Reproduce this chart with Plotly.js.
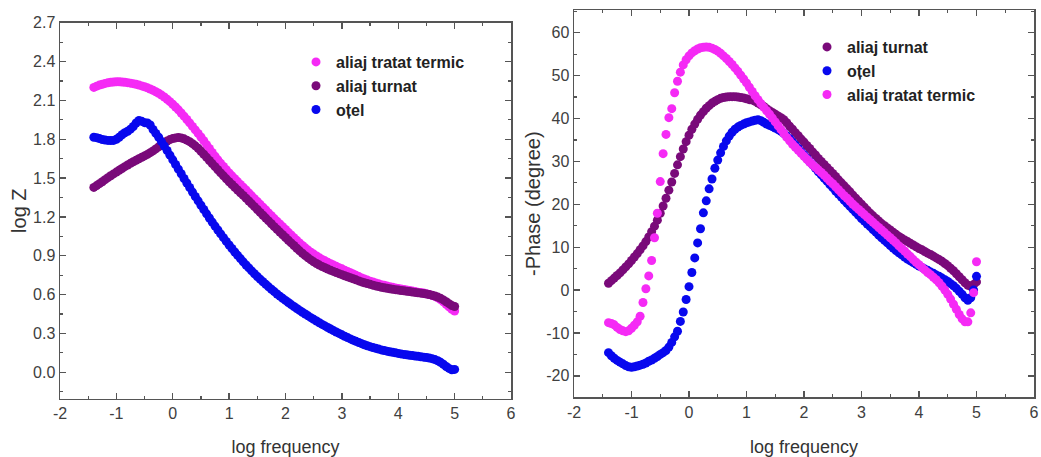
<!DOCTYPE html>
<html>
<head>
<meta charset="utf-8">
<script src="https://cdn.plot.ly/plotly-3.0.1.min.js"></script>
<style>
  html, body { margin: 0; padding: 0; background: #ffffff; }
  #chart { width: 1041px; height: 457px; }
</style>
</head>
<body>
<div id="chart"></div>
<script>
// Shared frequency grid (log10 of frequency, Hz)
const logFreq = [
  -1.40,-1.35,-1.30,-1.25,-1.20,-1.15,-1.10,-1.05,-1.00,-0.95,
  -0.90,-0.85,-0.80,-0.75,-0.70,-0.65,-0.60,-0.55,-0.50,-0.45,
  -0.40,-0.35,-0.30,-0.25,-0.20,-0.15,-0.10,-0.05,0.00,0.05,
  0.10,0.15,0.20,0.25,0.30,0.35,0.40,0.45,0.50,0.55,
  0.60,0.65,0.70,0.75,0.80,0.85,0.90,0.95,1.00,1.05,
  1.10,1.15,1.20,1.25,1.30,1.35,1.40,1.45,1.50,1.55,
  1.60,1.65,1.70,1.75,1.80,1.85,1.90,1.95,2.00,2.05,
  2.10,2.15,2.20,2.25,2.30,2.35,2.40,2.45,2.50,2.55,
  2.60,2.65,2.70,2.75,2.80,2.85,2.90,2.95,3.00,3.05,
  3.10,3.15,3.20,3.25,3.30,3.35,3.40,3.45,3.50,3.55,
  3.60,3.65,3.70,3.75,3.80,3.85,3.90,3.95,4.00,4.05,
  4.10,4.15,4.20,4.25,4.30,4.35,4.40,4.45,4.50,4.55,
  4.60,4.65,4.70,4.75,4.80,4.85,4.90,4.95,5.00
];

// Bode modulus, log |Z|
const logZ_tratat = [
  2.200,2.210,2.218,2.225,2.231,2.236,2.240,2.242,2.243,2.243,
  2.242,2.240,2.237,2.233,2.229,2.224,2.218,2.212,2.205,2.197,
  2.188,2.178,2.167,2.155,2.141,2.126,2.109,2.090,2.070,2.049,
  2.027,2.003,1.978,1.952,1.926,1.899,1.872,1.845,1.817,1.788,
  1.758,1.728,1.698,1.669,1.641,1.614,1.589,1.564,1.540,1.517,
  1.495,1.473,1.451,1.429,1.408,1.385,1.363,1.341,1.319,1.297,
  1.275,1.253,1.231,1.209,1.187,1.166,1.145,1.124,1.103,1.081,
  1.060,1.040,1.019,0.999,0.980,0.961,0.944,0.928,0.913,0.898,
  0.885,0.872,0.861,0.849,0.839,0.828,0.818,0.808,0.799,0.789,
  0.779,0.769,0.759,0.749,0.739,0.729,0.720,0.712,0.704,0.697,
  0.689,0.683,0.677,0.672,0.666,0.661,0.656,0.651,0.647,0.643,
  0.639,0.635,0.631,0.627,0.623,0.619,0.616,0.612,0.607,0.601,
  0.594,0.586,0.576,0.561,0.544,0.525,0.505,0.486,0.473
];
const logZ_turnat = [
  1.428,1.442,1.457,1.472,1.488,1.503,1.518,1.532,1.546,1.560,
  1.574,1.588,1.601,1.614,1.626,1.638,1.649,1.660,1.671,1.683,
  1.696,1.710,1.725,1.741,1.757,1.772,1.786,1.797,1.805,1.810,
  1.813,1.810,1.803,1.793,1.781,1.766,1.749,1.730,1.707,1.684,
  1.660,1.636,1.612,1.588,1.564,1.540,1.517,1.494,1.472,1.450,
  1.429,1.408,1.387,1.366,1.345,1.323,1.301,1.279,1.257,1.235,
  1.213,1.191,1.169,1.147,1.125,1.104,1.083,1.062,1.041,1.020,
  0.999,0.979,0.958,0.938,0.919,0.901,0.884,0.868,0.853,0.840,
  0.828,0.817,0.807,0.797,0.788,0.779,0.770,0.762,0.754,0.746,
  0.738,0.730,0.722,0.714,0.706,0.698,0.691,0.685,0.679,0.673,
  0.667,0.662,0.657,0.653,0.649,0.645,0.641,0.638,0.635,0.632,
  0.629,0.626,0.623,0.620,0.617,0.614,0.611,0.608,0.604,0.600,
  0.595,0.589,0.581,0.571,0.559,0.545,0.530,0.516,0.508
];
const logZ_otel = [
  1.815,1.812,1.805,1.798,1.794,1.791,1.790,1.791,1.800,1.815,
  1.835,1.850,1.862,1.878,1.898,1.925,1.945,1.938,1.928,1.925,
  1.910,1.875,1.845,1.815,1.782,1.748,1.713,1.677,1.641,1.605,
  1.569,1.533,1.497,1.462,1.427,1.392,1.358,1.324,1.290,1.257,
  1.224,1.192,1.160,1.129,1.099,1.069,1.040,1.011,0.983,0.956,
  0.929,0.903,0.878,0.853,0.829,0.806,0.783,0.761,0.740,0.719,
  0.699,0.679,0.660,0.641,0.623,0.605,0.588,0.571,0.555,0.539,
  0.523,0.508,0.493,0.478,0.464,0.450,0.436,0.422,0.409,0.396,
  0.383,0.370,0.358,0.346,0.334,0.322,0.311,0.300,0.289,0.278,
  0.268,0.258,0.248,0.239,0.230,0.221,0.213,0.205,0.198,0.191,
  0.185,0.179,0.173,0.168,0.163,0.158,0.154,0.150,0.146,0.142,
  0.138,0.135,0.132,0.129,0.126,0.123,0.120,0.117,0.114,0.110,
  0.105,0.098,0.089,0.077,0.062,0.045,0.030,0.020,0.022
];

// Bode phase, -Phase in degrees
const phase_turnat = [
  1.6,2.2,2.8,3.4,4.0,4.7,5.4,6.1,6.9,7.7,
  8.5,9.4,10.3,11.3,12.4,13.6,14.9,16.3,17.9,19.6,
  21.4,23.3,25.2,27.2,29.2,31.1,32.9,34.6,36.1,37.5,
  38.7,39.8,40.8,41.6,42.4,43.0,43.6,44.0,44.4,44.7,
  44.9,45.0,45.1,45.1,45.1,45.0,44.9,44.8,44.6,44.4,
  44.3,44.0,43.6,43.2,42.8,42.3,41.8,41.4,41.0,40.6,
  40.2,39.7,39.0,38.2,37.5,36.7,36.0,35.2,34.5,33.7,
  33.0,32.2,31.5,30.7,30.0,29.3,28.6,27.9,27.2,26.5,
  25.7,25.0,24.3,23.6,22.9,22.1,21.4,20.7,20.0,19.3,
  18.6,17.9,17.3,16.7,16.1,15.5,15.0,14.5,14.0,13.5,
  13.0,12.5,12.1,11.7,11.3,10.9,10.5,10.1,9.7,9.4,
  9.0,8.6,8.3,7.9,7.5,7.1,6.7,6.2,5.7,5.1,
  4.5,3.8,3.1,2.4,1.7,1.1,0.9,1.3,1.9
];
const phase_otel = [
  -14.6,-15.3,-15.9,-16.4,-16.8,-17.2,-17.6,-17.9,-18.0,-17.9,
  -17.7,-17.5,-17.3,-17.0,-16.6,-16.3,-15.9,-15.5,-15.0,-14.6,
  -14.1,-13.3,-12.2,-10.9,-9.6,-7.3,-5.1,-2.2,0.8,4.1,
  7.5,11.0,14.3,18.0,20.8,23.6,25.9,28.4,30.3,32.0,
  33.5,34.8,35.9,36.8,37.5,38.0,38.4,38.7,39.0,39.2,
  39.4,39.6,39.7,39.5,39.1,38.7,38.4,38.1,37.8,37.4,
  37.0,36.5,35.9,35.3,34.5,33.8,33.0,32.2,31.5,30.7,
  29.9,29.2,28.4,27.6,26.9,26.1,25.4,24.6,23.9,23.1,
  22.4,21.7,20.9,20.2,19.5,18.8,18.1,17.4,16.7,16.1,
  15.4,14.8,14.1,13.5,12.8,12.2,11.6,11.0,10.4,9.8,
  9.2,8.7,8.2,7.7,7.2,6.8,6.4,6.0,5.6,5.3,
  4.9,4.6,4.2,3.9,3.5,3.2,2.8,2.4,2.0,1.5,
  1.0,0.4,-0.3,-1.0,-1.8,-2.4,-1.8,0.0,3.2
];
const phase_tratat = [
  -7.6,-7.8,-8.1,-8.7,-9.2,-9.5,-9.7,-9.5,-8.9,-8.2,
  -7.4,-6.1,-2.9,0.3,3.3,6.9,12.2,17.9,25.3,31.8,
  36.3,40.2,42.3,46.0,48.7,50.8,52.5,53.7,54.6,55.3,
  55.8,56.2,56.5,56.6,56.7,56.6,56.4,56.1,55.7,55.2,
  54.6,54.0,53.3,52.6,51.8,51.0,50.1,49.2,48.3,47.3,
  46.3,45.3,44.4,43.5,42.6,41.8,41.0,40.1,39.2,38.3,
  37.4,36.5,35.6,34.8,34.0,33.3,32.6,31.9,31.2,30.5,
  29.8,29.2,28.6,28.0,27.4,26.8,26.1,25.4,24.8,24.1,
  23.4,22.7,22.0,21.4,20.7,20.0,19.4,18.8,18.2,17.6,
  17.0,16.4,15.8,15.2,14.6,14.0,13.4,12.8,12.2,11.6,
  11.0,10.3,9.7,9.1,8.4,7.8,7.1,6.5,5.9,5.3,
  4.7,4.1,3.6,3.0,2.4,1.7,0.9,0.0,-1.0,-2.1,
  -3.3,-4.5,-5.7,-6.7,-7.4,-7.4,-5.3,-0.6,6.6
];

// Tick labels (plain hyphen for negatives)
const freqTicks = [-2, -1, 0, 1, 2, 3, 4, 5, 6];
const freqTickText = ['-2', '-1', '0', '1', '2', '3', '4', '5', '6'];
const phaseTicks = [-20, -10, 0, 10, 20, 30, 40, 50, 60];
const phaseTickText = ['-20', '-10', '0', '10', '20', '30', '40', '50', '60'];

const seriesNames = { tratat: 'aliaj tratat termic', turnat: 'aliaj turnat', otel: 'oțel' };
const seriesColors = { tratat: '#f52af5', turnat: '#7a0a7a', otel: '#0808ee' };

const FONT = 'Arial, "Liberation Sans", sans-serif';
const AXIS_COLOR = '#555555';
const W = 1041, H = 457;

function pts(name, color, x, y, xa, ya, legend) {
  return {
    type: 'scatter', mode: 'markers', name: name,
    x: x, y: y, xaxis: xa, yaxis: ya, legend: legend,
    marker: { color: color, size: 9, line: { width: 0 } },
    hoverinfo: 'x+y'
  };
}

const traces = [
  // left panel: modulus
  pts(seriesNames.tratat, seriesColors.tratat, logFreq, logZ_tratat, 'x', 'y', 'legend'),
  pts(seriesNames.turnat, seriesColors.turnat, logFreq, logZ_turnat, 'x', 'y', 'legend'),
  pts(seriesNames.otel, seriesColors.otel, logFreq, logZ_otel, 'x', 'y', 'legend'),
  // right panel: phase
  pts(seriesNames.turnat, seriesColors.turnat, logFreq, phase_turnat, 'x2', 'y2', 'legend2'),
  pts(seriesNames.otel, seriesColors.otel, logFreq, phase_otel, 'x2', 'y2', 'legend2'),
  pts(seriesNames.tratat, seriesColors.tratat, logFreq, phase_tratat, 'x2', 'y2', 'legend2')
];

function frameAxis(extra) {
  return Object.assign({
    showline: true, linecolor: AXIS_COLOR, linewidth: 1.5,
    mirror: 'ticks', ticks: 'inside', ticklen: 6, tickwidth: 1.3, tickcolor: AXIS_COLOR,
    showgrid: false, zeroline: false,
    tickfont: { family: FONT, size: 16, color: '#404040' }
  }, extra);
}

const minorX = { dtick: 0.5, ticks: 'inside', ticklen: 3, tickwidth: 1.2, tickcolor: AXIS_COLOR };

const layout = {
  width: W, height: H,
  margin: { l: 0, r: 0, t: 0, b: 0 },
  paper_bgcolor: '#ffffff', plot_bgcolor: '#ffffff',
  font: { family: FONT, color: '#333333' },
  showlegend: true,
  xaxis: frameAxis({
    domain: [60 / W, 511 / W], range: [-2, 6], tickvals: freqTicks, ticktext: freqTickText,
    anchor: 'y', minor: minorX,
    title: { text: 'log frequency', font: { family: FONT, size: 18, color: '#333333' }, standoff: 20 }
  }),
  yaxis: frameAxis({
    domain: [1 - 398.7 / H, 1 - 22.7 / H], range: [-0.204, 2.7], tick0: 0, dtick: 0.3,
    tickformat: '.1f', anchor: 'x',
    minor: { dtick: 0.15, ticks: 'inside', ticklen: 3, tickwidth: 1.2, tickcolor: AXIS_COLOR },
    title: { text: 'log Z', font: { family: FONT, size: 20, color: '#333333' }, standoff: 1 }
  }),
  xaxis2: frameAxis({
    domain: [574 / W, 1034 / W], range: [-2, 6], tickvals: freqTicks, ticktext: freqTickText,
    anchor: 'y2', minor: minorX,
    title: { text: 'log frequency', font: { family: FONT, size: 18, color: '#333333' }, standoff: 20 }
  }),
  yaxis2: frameAxis({
    domain: [1 - 397.3 / H, 1 - 10 / H], range: [-25, 65.3], tickvals: phaseTicks, ticktext: phaseTickText,
    anchor: 'x2',
    minor: { dtick: 5, ticks: 'inside', ticklen: 3, tickwidth: 1.2, tickcolor: AXIS_COLOR },
    title: { text: '-Phase (degree)', font: { family: FONT, size: 20, color: '#333333' }, standoff: 0 }
  }),
  legend: {
    x: 296 / W, y: 1 - 45 / H, xanchor: 'left', yanchor: 'top',
    bgcolor: 'rgba(0,0,0,0)', borderwidth: 0, tracegroupgap: 0,
    font: { family: FONT, size: 16, color: '#222222', weight: 'bold' }
  },
  legend2: {
    x: 807 / W, y: 1 - 30 / H, xanchor: 'left', yanchor: 'top',
    bgcolor: 'rgba(0,0,0,0)', borderwidth: 0, tracegroupgap: 0,
    font: { family: FONT, size: 16, color: '#222222', weight: 'bold' }
  }
};

Plotly.newPlot('chart', traces, layout, { displayModeBar: false, staticPlot: true });
</script>
</body>
</html>
